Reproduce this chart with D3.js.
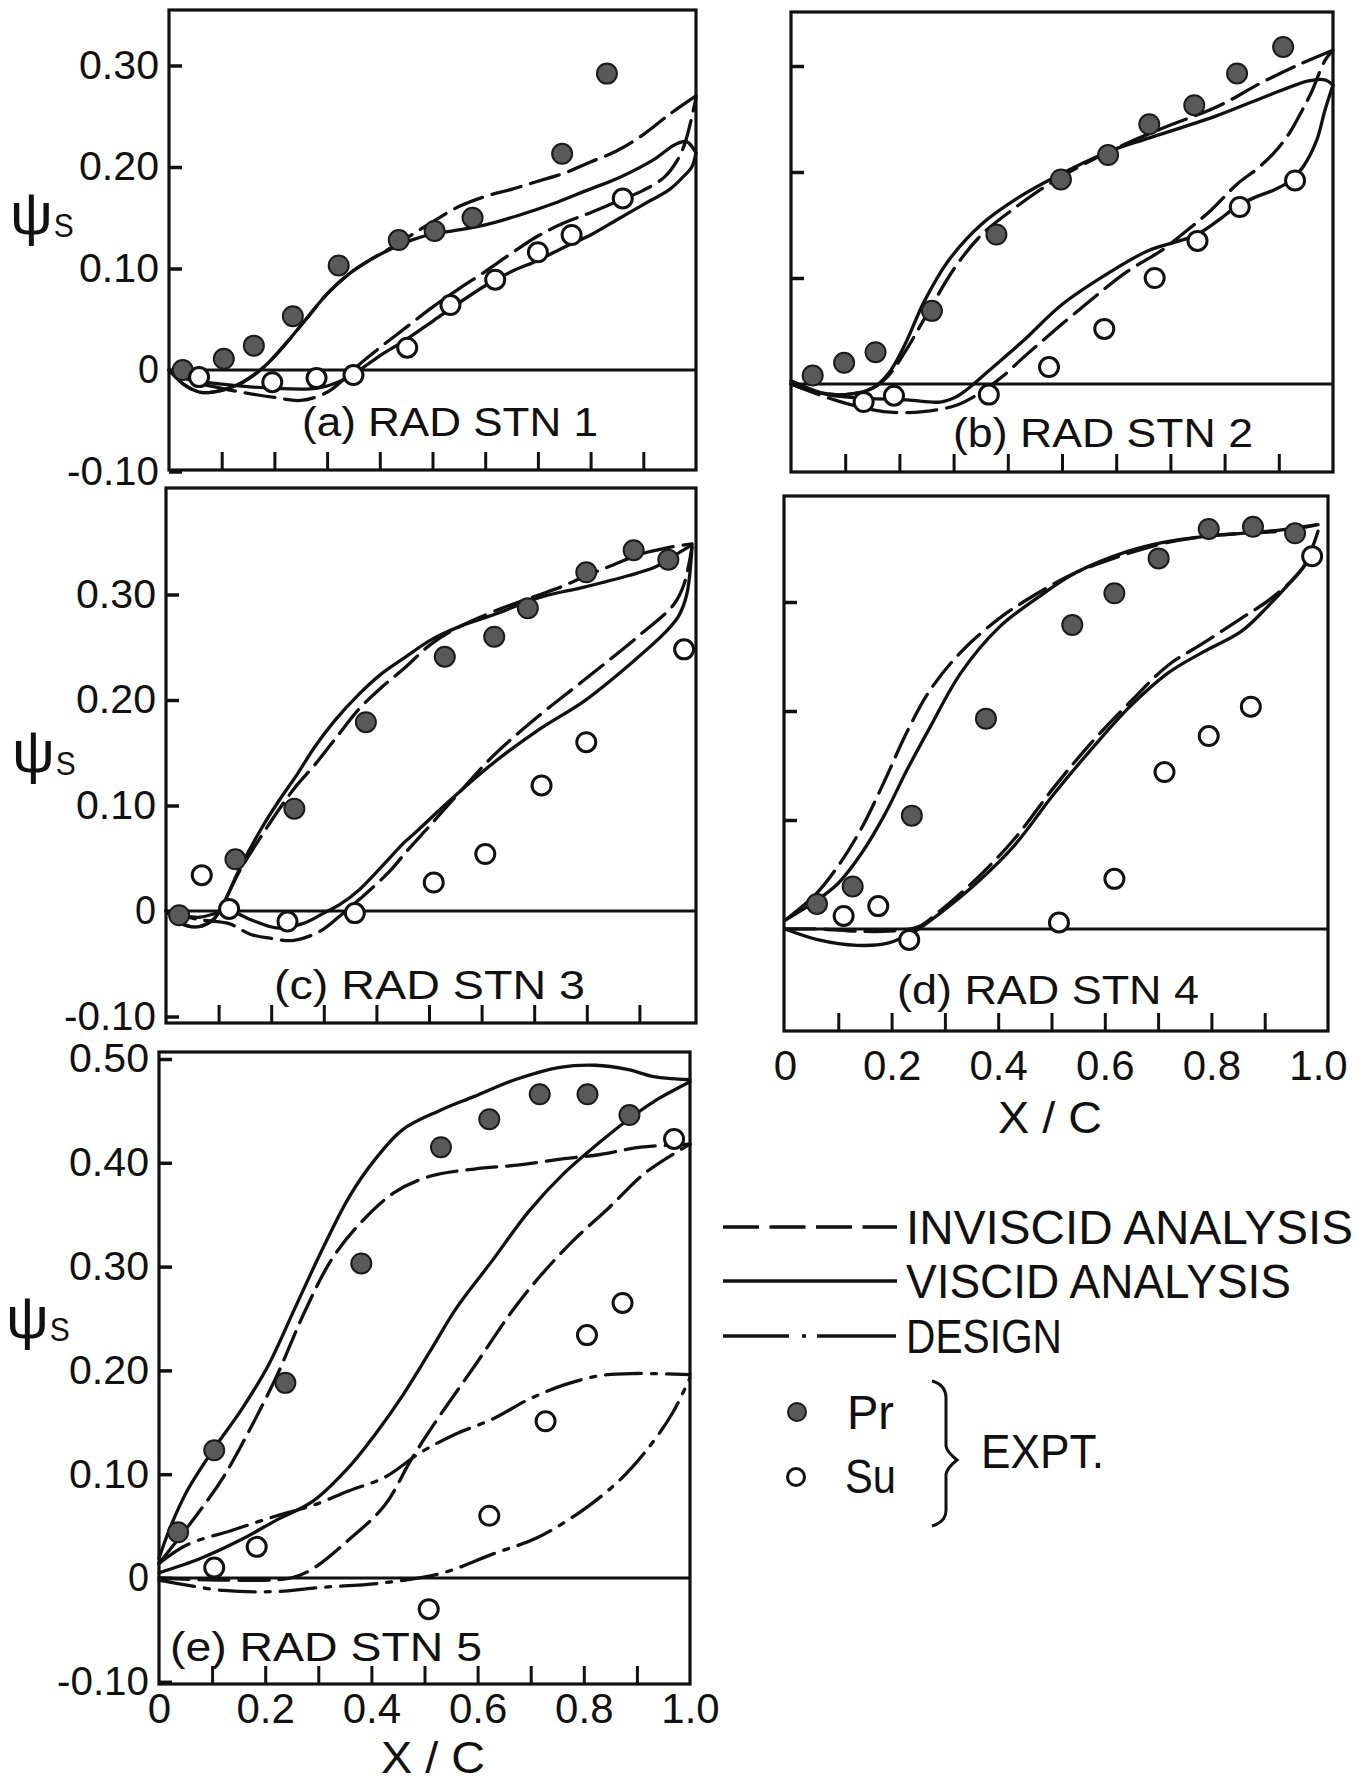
<!DOCTYPE html>
<html><head><meta charset="utf-8">
<script src="https://cdn.jsdelivr.net/npm/d3@7"></script>
<style>
html,body{margin:0;padding:0;background:#fff;}
svg{display:block;background:#fff;}
text{font-family:"Liberation Sans Narrow","Liberation Sans",Arial,sans-serif;fill:#111;}
</style></head><body>
<svg id="chart" width="1367" height="1783"></svg>
<script>
// ---------------- DATA (x/C, psi_s) ----------------
const yTickValues = [-0.1, 0, 0.1, 0.2, 0.3];
const yTickLabels = ["-0.10", "0", "0.10", "0.20", "0.30"];
const yTickValuesE = [-0.1, 0, 0.1, 0.2, 0.3, 0.4, 0.5];
const yTickLabelsE = ["-0.10", "0", "0.10", "0.20", "0.30", "0.40", "0.50"];
const yTickValuesPlain = [0.1, 0.2, 0.3];
const xMinorTicks = [0.1, 0.2, 0.3, 0.4, 0.5, 0.6, 0.7, 0.8, 0.9];
const xTickValues = [0, 0.2, 0.4, 0.6, 0.8, 1.0];
const xTickLabels = ["0", "0.2", "0.4", "0.6", "0.8", "1.0"];

// (a) RAD STN 1
const a_prInv = [[0,0],[0.03,-0.015],[0.06,-0.022],[0.1,-0.02],[0.14,-0.012],[0.18,0.003],[0.22,0.025],[0.26,0.05],[0.3,0.075],[0.34,0.094],[0.38,0.108],[0.42,0.12],[0.46,0.133],[0.5,0.146],[0.55,0.161],[0.6,0.171],[0.65,0.178],[0.7,0.186],[0.75,0.194],[0.8,0.205],[0.85,0.216],[0.9,0.232],[0.95,0.252],[1.0,0.27]];
const a_prVis = [[0,0],[0.03,-0.015],[0.06,-0.022],[0.1,-0.02],[0.14,-0.012],[0.18,0.003],[0.22,0.025],[0.26,0.05],[0.3,0.075],[0.34,0.094],[0.38,0.108],[0.42,0.119],[0.46,0.128],[0.5,0.134],[0.55,0.138],[0.6,0.143],[0.667,0.153],[0.73,0.164],[0.793,0.177],[0.856,0.19],[0.919,0.207],[0.96,0.222],[0.982,0.225],[1.0,0.214]];
const a_suInv = [[0,0],[0.05,-0.012],[0.1,-0.018],[0.15,-0.023],[0.2,-0.027],[0.25,-0.03],[0.3,-0.022],[0.33,-0.01],[0.36,0.005],[0.4,0.022],[0.45,0.042],[0.5,0.062],[0.55,0.08],[0.6,0.097],[0.65,0.115],[0.7,0.132],[0.75,0.145],[0.8,0.155],[0.85,0.166],[0.9,0.177],[0.94,0.19],[0.965,0.207],[0.98,0.225],[1.0,0.268]];
const a_suVis = [[0,0],[0.05,-0.01],[0.1,-0.014],[0.2,-0.018],[0.28,-0.018],[0.32,-0.012],[0.35,-0.004],[0.4,0.014],[0.45,0.03],[0.5,0.048],[0.55,0.066],[0.6,0.083],[0.65,0.097],[0.7,0.108],[0.75,0.121],[0.8,0.133],[0.85,0.148],[0.9,0.163],[0.95,0.178],[0.975,0.19],[0.992,0.2],[1.0,0.214]];
const a_prExp = [[0.026,0.0],[0.104,0.011],[0.161,0.024],[0.235,0.053],[0.322,0.103],[0.436,0.128],[0.504,0.137],[0.576,0.15],[0.746,0.213],[0.831,0.292]];
const a_suExp = [[0.057,-0.007],[0.196,-0.012],[0.28,-0.008],[0.35,-0.005],[0.452,0.022],[0.534,0.064],[0.619,0.089],[0.70,0.116],[0.764,0.133],[0.861,0.169]];

// (b) RAD STN 2
const b_prInv = [[0,0],[0.05,-0.008],[0.1,-0.01],[0.15,-0.004],[0.18,0.008],[0.21,0.03],[0.25,0.065],[0.3,0.108],[0.35,0.14],[0.41,0.165],[0.49,0.193],[0.59,0.22],[0.684,0.241],[0.788,0.262],[0.867,0.284],[0.94,0.302],[1.0,0.315]];
const b_prVis = [[0,0],[0.05,-0.008],[0.1,-0.01],[0.15,-0.004],[0.18,0.01],[0.21,0.037],[0.245,0.077],[0.29,0.116],[0.35,0.15],[0.42,0.176],[0.49,0.196],[0.59,0.22],[0.66,0.232],[0.78,0.252],[0.87,0.27],[0.955,0.286],[0.985,0.287],[1.0,0.282]];
const b_suInv = [[0,0],[0.08,-0.015],[0.171,-0.026],[0.244,-0.026],[0.305,-0.02],[0.35,-0.008],[0.39,0.007],[0.433,0.027],[0.534,0.071],[0.62,0.106],[0.684,0.126],[0.714,0.138],[0.775,0.164],[0.824,0.189],[0.86,0.203],[0.891,0.218],[0.92,0.237],[0.945,0.26],[0.96,0.275],[0.985,0.305],[1.0,0.315]];
const b_suVis = [[0,0.003],[0.06,-0.009],[0.12,-0.013],[0.214,-0.015],[0.275,-0.017],[0.305,-0.012],[0.33,-0.003],[0.366,0.013],[0.427,0.04],[0.5,0.075],[0.59,0.106],[0.66,0.126],[0.745,0.14],[0.79,0.155],[0.821,0.167],[0.86,0.177],[0.891,0.183],[0.922,0.192],[0.945,0.205],[0.97,0.23],[0.985,0.258],[1.0,0.282]];
const b_prExp = [[0.04,0.008],[0.098,0.02],[0.156,0.03],[0.26,0.069],[0.379,0.141],[0.498,0.193],[0.585,0.216],[0.661,0.245],[0.744,0.263],[0.823,0.293],[0.908,0.318]];
const b_suExp = [[0.134,-0.017],[0.19,-0.011],[0.365,-0.01],[0.476,0.016],[0.578,0.052],[0.671,0.10],[0.75,0.135],[0.828,0.167],[0.93,0.192]];

// (c) RAD STN 3
const c_prInv = [[0,0],[0.03,-0.012],[0.06,-0.015],[0.09,-0.008],[0.11,0.008],[0.14,0.038],[0.18,0.07],[0.22,0.1],[0.25,0.12],[0.282,0.138],[0.32,0.162],[0.368,0.192],[0.41,0.212],[0.453,0.23],[0.504,0.253],[0.56,0.27],[0.624,0.284],[0.7,0.298],[0.75,0.307],[0.8,0.318],[0.85,0.328],[0.9,0.338],[0.95,0.344],[1.0,0.348]];
const c_prVis = [[0,0],[0.03,-0.012],[0.06,-0.015],[0.09,-0.008],[0.11,0.008],[0.14,0.04],[0.18,0.077],[0.214,0.104],[0.25,0.13],[0.282,0.155],[0.32,0.18],[0.368,0.206],[0.41,0.225],[0.453,0.24],[0.504,0.257],[0.56,0.27],[0.624,0.281],[0.709,0.297],[0.795,0.307],[0.88,0.318],[0.93,0.326],[0.96,0.335],[1.0,0.347]];
const c_suInv = [[0,0],[0.06,-0.008],[0.12,-0.012],[0.16,-0.022],[0.2,-0.026],[0.24,-0.028],[0.29,-0.02],[0.33,-0.005],[0.37,0.012],[0.424,0.037],[0.46,0.058],[0.5,0.08],[0.55,0.108],[0.624,0.148],[0.709,0.185],[0.795,0.219],[0.897,0.26],[0.966,0.291],[0.985,0.31],[1.0,0.345]];
const c_suVis = [[0,0],[0.06,-0.006],[0.12,0.0],[0.16,-0.008],[0.21,-0.016],[0.26,-0.012],[0.3,-0.002],[0.33,0.006],[0.367,0.02],[0.41,0.042],[0.453,0.065],[0.48,0.077],[0.538,0.104],[0.624,0.141],[0.709,0.172],[0.795,0.199],[0.88,0.233],[0.949,0.264],[0.975,0.28],[0.99,0.3],[1.0,0.345]];
const c_prExp = [[0.025,-0.004],[0.132,0.049],[0.244,0.097],[0.38,0.179],[0.53,0.241],[0.624,0.26],[0.688,0.287],[0.799,0.321],[0.889,0.342],[0.955,0.333]];
const c_suExp = [[0.068,0.034],[0.12,0.002],[0.231,-0.01],[0.359,-0.002],[0.509,0.027],[0.607,0.054],[0.714,0.119],[0.799,0.16],[0.985,0.248]];

// (d) RAD STN 4
const d_prInv = [[0,0.008],[0.056,0.031],[0.1,0.058],[0.143,0.092],[0.186,0.135],[0.229,0.181],[0.272,0.219],[0.33,0.254],[0.402,0.285],[0.474,0.308],[0.546,0.327],[0.64,0.344],[0.712,0.354],[0.784,0.36],[0.856,0.363],[0.928,0.365],[1.0,0.371]];
const d_prVis = [[0,0.008],[0.056,0.025],[0.1,0.042],[0.143,0.069],[0.186,0.104],[0.229,0.146],[0.272,0.185],[0.33,0.235],[0.402,0.277],[0.474,0.304],[0.546,0.327],[0.64,0.346],[0.712,0.355],[0.784,0.36],[0.856,0.363],[0.928,0.366],[1.0,0.371]];
const d_suInv = [[0,0],[0.063,0.0],[0.135,-0.002],[0.193,-0.002],[0.25,0.002],[0.287,0.015],[0.359,0.046],[0.431,0.083],[0.503,0.129],[0.575,0.171],[0.647,0.208],[0.719,0.242],[0.784,0.262],[0.856,0.285],[0.914,0.304],[0.971,0.331],[1.0,0.365]];
const d_suVis = [[0,0],[0.063,-0.01],[0.135,-0.015],[0.193,-0.013],[0.244,-0.002],[0.287,0.013],[0.359,0.042],[0.431,0.077],[0.503,0.123],[0.575,0.165],[0.647,0.204],[0.719,0.235],[0.784,0.254],[0.856,0.273],[0.906,0.296],[0.964,0.327],[1.0,0.348]];
const d_prExp = [[0.06,0.023],[0.127,0.039],[0.238,0.104],[0.377,0.193],[0.539,0.279],[0.618,0.308],[0.701,0.34],[0.795,0.367],[0.878,0.369],[0.957,0.363]];
const d_suExp = [[0.11,0.012],[0.175,0.021],[0.233,-0.01],[0.514,0.006],[0.618,0.046],[0.712,0.144],[0.795,0.177],[0.874,0.204],[0.989,0.342]];

// (e) RAD STN 5
const e_prInv = [[0,0.014],[0.07,0.06],[0.121,0.097],[0.172,0.144],[0.222,0.195],[0.273,0.255],[0.324,0.306],[0.374,0.339],[0.442,0.371],[0.51,0.387],[0.594,0.394],[0.679,0.398],[0.763,0.404],[0.831,0.408],[0.907,0.415],[1.0,0.418]];
const e_prVis = [[0,0.019],[0.019,0.046],[0.053,0.084],[0.104,0.125],[0.155,0.162],[0.205,0.204],[0.256,0.26],[0.307,0.316],[0.358,0.367],[0.408,0.404],[0.459,0.432],[0.527,0.45],[0.594,0.464],[0.67,0.48],[0.755,0.492],[0.822,0.494],[0.882,0.49],[0.932,0.483],[1.0,0.48]];
const e_suInv = [[0,0],[0.121,-0.002],[0.248,0.0],[0.29,0.009],[0.358,0.037],[0.425,0.07],[0.476,0.115],[0.527,0.155],[0.594,0.204],[0.662,0.255],[0.713,0.288],[0.78,0.325],[0.848,0.357],[0.915,0.39],[1.0,0.418]];
const e_suVis = [[0,0.005],[0.079,0.019],[0.155,0.037],[0.222,0.056],[0.29,0.074],[0.358,0.107],[0.408,0.139],[0.459,0.176],[0.51,0.218],[0.56,0.26],[0.628,0.306],[0.696,0.353],[0.763,0.39],[0.814,0.413],[0.882,0.441],[0.932,0.459],[1.0,0.478]];
const e_prDes = [[0,0.014],[0.053,0.032],[0.138,0.046],[0.222,0.06],[0.29,0.07],[0.358,0.084],[0.425,0.097],[0.493,0.121],[0.56,0.139],[0.628,0.153],[0.696,0.172],[0.763,0.186],[0.831,0.195],[0.899,0.197],[1.0,0.196]];
const e_suDes = [[0,-0.002],[0.121,-0.012],[0.222,-0.013],[0.307,-0.009],[0.417,-0.005],[0.535,0.005],[0.628,0.023],[0.713,0.039],[0.797,0.065],[0.865,0.093],[0.915,0.121],[0.966,0.158],[1.0,0.193]];
const e_prExp = [[0.036,0.044],[0.104,0.123],[0.238,0.188],[0.381,0.303],[0.531,0.415],[0.622,0.442],[0.717,0.466],[0.807,0.466],[0.886,0.446]];
const e_suExp = [[0.104,0.01],[0.184,0.03],[0.508,-0.03],[0.622,0.06],[0.728,0.151],[0.806,0.234],[0.873,0.265],[0.97,0.423]];

const panelLabels = ["(a) RAD STN 1", "(b) RAD STN 2", "(c) RAD STN 3", "(d) RAD STN 4", "(e) RAD STN 5"];
const legendLabels = ["INVISCID  ANALYSIS", "VISCID ANALYSIS", "DESIGN"];
const exptLabels = ["Pr", "Su", "EXPT."];

// ---------------- LAYOUT ----------------
const INK = "#111";
const FONT = '"Liberation Sans Narrow","Liberation Sans",Arial,sans-serif';
const STYLE = {
  inv: {dash: "30,10"},
  vis: {dash: null},
  des: {dash: "36,10,5,10"}
};
const panels = [
  {frame:[169,10,696,470], xr:[169,696], y0:370, k10:101.5, yTicks:"a",
   lines:[[a_prInv,"inv"],[a_prVis,"vis"],[a_suInv,"inv"],[a_suVis,"vis"]], pr:a_prExp, su:a_suExp,
   label:[panelLabels[0], 302, 436, 296], psi:[10, 234], xlab:false},
  {frame:[791,12,1333,472], xr:[791,1333], y0:384, k10:106, yTicks:"plain",
   lines:[[b_prInv,"inv"],[b_prVis,"vis"],[b_suInv,"inv"],[b_suVis,"vis"]], pr:b_prExp, su:b_suExp,
   label:[panelLabels[1], 953, 447, 300], psi:null, xlab:false},
  {frame:[166,488,696,1023], xr:[166,692], y0:911, k10:105.5, yTicks:"a",
   lines:[[c_prInv,"inv"],[c_prVis,"vis"],[c_suInv,"inv"],[c_suVis,"vis"]], pr:c_prExp, su:c_suExp,
   label:[panelLabels[2], 274, 999, 311], psi:[12, 772], xlab:false},
  {frame:[784,496,1328,1031], xr:[785,1318], y0:929, k10:109, yTicks:"plain",
   lines:[[d_prInv,"inv"],[d_prVis,"vis"],[d_suInv,"inv"],[d_suVis,"vis"]], pr:d_prExp, su:d_suExp,
   label:[panelLabels[3], 897, 1004, 302], psi:null, xlab:true, xlabPad:19, xc:[1050,1133]},
  {frame:[159,1052,690,1684], xr:[159,690], y0:1578, k10:103.8, yTicks:"e",
   lines:[[e_prInv,"inv"],[e_prVis,"vis"],[e_suInv,"inv"],[e_suVis,"vis"],[e_prDes,"des"],[e_suDes,"des"]], pr:e_prExp, su:e_suExp,
   label:[panelLabels[4], 170, 1661, 312], psi:[6, 1338], xlab:true, xlabPad:9, xc:[433,1773]}
];

const svg = d3.select("#chart");

panels.forEach(p => {
  const [fx0, fy0, fx1, fy1] = p.frame;
  const x = d3.scaleLinear().domain([0, 1]).range(p.xr);
  const y = d3.scaleLinear().domain([0, 0.1]).range([p.y0, p.y0 - p.k10]);
  const g = svg.append("g");

  // frame
  g.append("rect").attr("x", fx0).attr("y", fy0).attr("width", fx1 - fx0).attr("height", fy1 - fy0)
    .attr("fill", "none").attr("stroke", INK).attr("stroke-width", 3.2);

  // zero line
  g.append("line").attr("x1", fx0).attr("x2", fx1).attr("y1", y(0)).attr("y2", y(0))
    .attr("stroke", INK).attr("stroke-width", 3);

  // y axis
  let tv, tl;
  if (p.yTicks === "a") { tv = yTickValues; tl = yTickLabels; }
  else if (p.yTicks === "e") { tv = yTickValuesE; tl = yTickLabelsE; }
  else { tv = yTickValuesPlain; tl = null; }
  const yAxis = d3.axisLeft(y).tickValues(tv).tickSize(-13).tickPadding(10)
    .tickFormat(tl ? (d => tl[tv.indexOf(d)]) : (() => ""));
  const ya = g.append("g").attr("transform", `translate(${fx0},0)`).call(yAxis);
  ya.select(".domain").remove();
  ya.selectAll(".tick line").attr("stroke", INK).attr("stroke-width", 3.5);
  ya.selectAll(".tick text").attr("font-size", 40).attr("fill", INK).attr("font-family", FONT)
    .each(function() {
      const t = d3.select(this).text();
      if (t.length === 4) d3.select(this).attr("textLength", 80).attr("lengthAdjust", "spacingAndGlyphs");
      else if (t.length === 5) d3.select(this).attr("textLength", 92).attr("lengthAdjust", "spacingAndGlyphs");
      else if (t.length === 1) d3.select(this).attr("textLength", 21).attr("lengthAdjust", "spacingAndGlyphs");
    });

  // bottom minor ticks (inward)
  const xAxis = d3.axisBottom(x).tickValues(xMinorTicks).tickSize(-18).tickFormat(() => "");
  const xa = g.append("g").attr("transform", `translate(0,${fy1})`).call(xAxis);
  xa.select(".domain").remove();
  xa.selectAll(".tick line").attr("stroke", INK).attr("stroke-width", 3);

  if (p.xlab) {
    const xl = d3.axisBottom(x).tickValues(xTickValues).tickSize(0).tickPadding(p.xlabPad)
      .tickFormat(d => xTickLabels[xTickValues.indexOf(d)]);
    const xla = g.append("g").attr("transform", `translate(0,${fy1})`).call(xl);
    xla.select(".domain").remove();
    xla.selectAll(".tick text").attr("font-size", 42).attr("fill", INK).attr("font-family", FONT);
    g.append("text").attr("x", p.xc[0]).attr("y", p.xc[1]).attr("text-anchor", "middle")
      .attr("font-size", 44).attr("textLength", 104).attr("lengthAdjust", "spacingAndGlyphs").text("X / C");
  }

  // curves
  const line = d3.line().x(d => x(d[0])).y(d => y(d[1])).curve(d3.curveCatmullRom.alpha(0.5));
  p.lines.forEach(([data, st]) => {
    g.append("path").attr("d", line(data)).attr("fill", "none").attr("stroke", INK)
      .attr("stroke-width", 3.3).attr("stroke-linecap", "round")
      .attr("stroke-dasharray", STYLE[st].dash);
  });

  // markers
  g.selectAll(".pr").data(p.pr).join("circle").attr("cx", d => x(d[0])).attr("cy", d => y(d[1]))
    .attr("r", 10).attr("fill", "#595959").attr("stroke", "#1a1a1a").attr("stroke-width", 2);
  g.selectAll(".su").data(p.su).join("circle").attr("cx", d => x(d[0])).attr("cy", d => y(d[1]))
    .attr("r", 9.5).attr("fill", "#fff").attr("stroke", INK).attr("stroke-width", 3);

  // panel label
  g.append("text").attr("x", p.label[1]).attr("y", p.label[2]).attr("font-size", 40)
    .attr("textLength", p.label[3]).attr("lengthAdjust", "spacingAndGlyphs").text(p.label[0]);

  // psi_s
  if (p.psi) {
    const ps = g.append("text").attr("x", p.psi[0]).attr("y", p.psi[1]).attr("font-size", 60)
      .attr("font-family", '"DejaVu Sans",sans-serif').text("ψ");
    const w = ps.node().getComputedTextLength();
    g.append("text").attr("x", p.psi[0] + w + 1).attr("y", p.psi[1] + 3).attr("font-size", 34)
      .attr("textLength", 20).attr("lengthAdjust", "spacingAndGlyphs").text("S");
  }
});

// ---------------- LEGEND ----------------
const lg = svg.append("g");
const legendY = [1227, 1281, 1336];
const legendStyles = ["36,10.5", null, "66,13,4,11,79"];
const textLens = [447, 385, 156];
legendLabels.forEach((lab, i) => {
  lg.append("line").attr("x1", 723).attr("x2", 897).attr("y1", legendY[i]).attr("y2", legendY[i])
    .attr("stroke", INK).attr("stroke-width", 3.5).attr("stroke-dasharray", legendStyles[i]);
  lg.append("text").attr("x", 906).attr("y", legendY[i] + 17).attr("font-size", 48)
    .attr("textLength", textLens[i]).attr("lengthAdjust", "spacingAndGlyphs").text(lab);
});
lg.append("circle").attr("cx", 797).attr("cy", 1412).attr("r", 9).attr("fill", "#595959").attr("stroke", "#1a1a1a").attr("stroke-width", 2);
lg.append("circle").attr("cx", 796).attr("cy", 1477).attr("r", 8.5).attr("fill", "#fff").attr("stroke", INK).attr("stroke-width", 3);
lg.append("text").attr("x", 847).attr("y", 1429).attr("font-size", 48).attr("textLength", 47).attr("lengthAdjust", "spacingAndGlyphs").text(exptLabels[0]);
lg.append("text").attr("x", 845).attr("y", 1493).attr("font-size", 48).attr("textLength", 51).attr("lengthAdjust", "spacingAndGlyphs").text(exptLabels[1]);
lg.append("path").attr("d", "M932,1381 Q946,1385 946,1398 L946,1446 Q947,1452 957,1460 Q947,1468 946,1474 L946,1510 Q946,1522 932,1526")
  .attr("fill", "none").attr("stroke", INK).attr("stroke-width", 3);
lg.append("text").attr("x", 981).attr("y", 1468).attr("font-size", 48).attr("textLength", 123).attr("lengthAdjust", "spacingAndGlyphs").text(exptLabels[2]);
</script>
</body></html>
